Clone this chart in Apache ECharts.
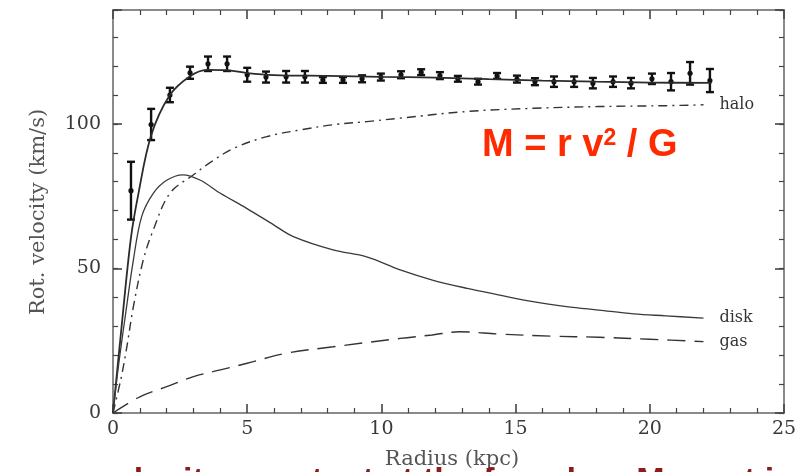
<!DOCTYPE html>
<html>
<head>
<meta charset="utf-8">
<script src="https://cdn.jsdelivr.net/npm/echarts@6/dist/echarts.min.js"></script>
<style>
  html, body { margin: 0; padding: 0; background: #fff; }
  #chart { width: 812px; height: 472px; }
</style>
</head>
<body>
<div id="chart"></div>
<script>
// Observed rotation velocities with 1-sigma errors
const radius = [0.67, 1.42, 2.12, 2.87, 3.54, 4.25, 5.0, 5.70, 6.45, 7.15, 7.82, 8.57, 9.28, 9.98,
  10.73, 11.48, 12.18, 12.85, 13.60, 14.31, 15.05, 15.72, 16.43, 17.18, 17.88, 18.63, 19.30,
  20.08, 20.79, 21.50, 22.24];
const velocity = [76.9, 99.8, 110.0, 117.7, 120.8, 120.8, 117.0, 116.2, 116.3, 116.3, 115.2, 115.2,
  115.6, 116.2, 117.0, 117.9, 116.7, 115.6, 114.6, 116.6, 115.5, 114.6, 114.6, 114.6, 114.1, 114.6,
  114.1, 115.6, 114.6, 117.5, 115.0];
const velocityErr = [10, 5.4, 2.5, 2.1, 2.5, 2.5, 2.4, 1.9, 2.0, 2.0, 1.0, 1.0, 1.2, 1.2, 1.2, 1.0,
  1.2, 1.0, 1.0, 1.0, 1.2, 1.2, 1.8, 1.8, 1.8, 1.8, 1.8, 1.8, 3.0, 3.9, 4.0];

// Model: total fit and its components
const totalR = [0, 0.3, 0.66, 0.93, 1.42, 2.12, 2.87, 3.5, 4.2, 5.0, 6.0, 8.0, 10.0, 12.0, 14.0, 16.0, 18.0, 20.0, 22.3];
const totalV = [0, 28, 60, 75, 96, 110, 116.5, 118.7, 118.6, 117.6, 116.9, 116.6, 116.3, 116.0, 115.5, 115.0, 114.6, 114.3, 114.2];

const haloR = [0, 0.3, 0.5, 0.76, 1.13, 1.5, 2.12, 3.0, 3.6, 4.48, 5.73, 6.97, 8.2, 9.45, 10.7, 13.2, 15.65, 18.1, 20.6, 22.0];
const haloV = [0, 12, 22, 36.8, 53, 63.3, 76, 82.4, 86.5, 91.5, 95.6, 97.9, 99.7, 100.8, 102, 104.3, 105.4, 106, 106.3, 106.6];

const diskR = [0, 0.2, 0.45, 0.76, 1.07, 1.5, 2.0, 2.6, 3.24, 4.0, 4.98, 6.0, 6.72, 8.2, 9.45, 10.7, 11.9, 13.2, 14.4, 15.65, 16.9, 18.1, 19.4, 20.6, 22.0];
const diskV = [0, 16, 33, 53, 68, 76, 80.5, 82.4, 80.6, 76, 70.8, 65, 61, 56.4, 54, 49.5, 46, 43.1, 40.8, 38.5, 36.8, 35.6, 34.3, 33.6, 32.8];

const gasR = [0, 1.0, 2.0, 3.0, 4.0, 5.0, 6.47, 8.2, 10.7, 11.9, 12.9, 14.4, 16.3, 18.1, 20.0, 22.0];
const gasV = [0, 5.6, 9.1, 12.6, 14.9, 17.2, 20.7, 22.9, 25.8, 27.0, 28.1, 27.3, 26.6, 26.2, 25.5, 24.7];

const xTicks = [0, 5, 10, 15, 20, 25];
const yTicks = [0, 50, 100];

const pairs = (xs, ys) => xs.map((x, i) => [x, ys[i]]);
const errData = radius.map((r, i) => [r, velocity[i] - velocityErr[i], velocity[i] + velocityErr[i], velocity[i]]);

const serif = 'DejaVu Serif';
const frameColor = '#8a8a8a';
const tickColor = '#444';

function xAxisDef(position, showLabels) {
  return {
    type: 'value', position, min: 0, max: 25, interval: 5,
    axisLine: { show: true, onZero: false, lineStyle: { color: frameColor, width: 2 } },
    axisTick: { show: true, inside: true, length: 9, lineStyle: { color: tickColor, width: 1.6 } },
    minorTick: { show: true, splitNumber: 5, length: 5, lineStyle: { color: tickColor, width: 1.2 } },
    splitLine: { show: false },
    axisLabel: {
      show: showLabels, margin: 7, fontFamily: serif, fontSize: 19, color: '#3a3a3a',
      formatter: v => (xTicks.indexOf(v) >= 0 ? String(v) : '')
    }
  };
}

function yAxisDef(position, interval, tickLen, showLabels) {
  return {
    type: 'value', position, min: 0, max: 139.4, interval,
    axisLine: { show: true, onZero: false, lineStyle: { color: frameColor, width: 2 } },
    axisTick: { show: true, inside: true, length: tickLen, lineStyle: { color: tickColor, width: tickLen > 6 ? 1.6 : 1.2 } },
    splitLine: { show: false },
    axisLabel: {
      show: showLabels, margin: 12, fontFamily: serif, fontSize: 19, color: '#3a3a3a',
      formatter: v => (yTicks.indexOf(v) >= 0 ? String(v) : '')
    }
  };
}

const chart = echarts.init(document.getElementById('chart'), null, { renderer: 'canvas' });

const curveBase = {
  type: 'line', xAxisIndex: 0, yAxisIndex: 0, showSymbol: false, smooth: 0.35,
  silent: true, animation: false
};
const endLabelStyle = { show: true, distance: 16, fontFamily: serif, fontSize: 16, color: '#333' };

chart.setOption({
  animation: false,
  backgroundColor: '#ffffff',
  grid: { left: 113, right: 28, top: 10, bottom: 59 },
  xAxis: [xAxisDef('bottom', true), xAxisDef('top', false)],
  yAxis: [
    yAxisDef('left', 10, 5, false),
    yAxisDef('left', 50, 9, true),
    yAxisDef('right', 10, 5, false),
    yAxisDef('right', 50, 9, false)
  ],
  series: [
    Object.assign({}, curveBase, {
      name: 'total', data: pairs(totalR, totalV),
      lineStyle: { color: '#2b2b2b', width: 1.8 }
    }),
    Object.assign({}, curveBase, {
      name: 'halo', data: pairs(haloR, haloV),
      lineStyle: { color: '#333', width: 1.4, type: [9, 5, 2, 5] },
      endLabel: Object.assign({ formatter: 'halo' }, endLabelStyle)
    }),
    Object.assign({}, curveBase, {
      name: 'disk', data: pairs(diskR, diskV),
      lineStyle: { color: '#3a3a3a', width: 1.3 },
      endLabel: Object.assign({ formatter: 'disk' }, endLabelStyle)
    }),
    Object.assign({}, curveBase, {
      name: 'gas', data: pairs(gasR, gasV),
      lineStyle: { color: '#333', width: 1.4, type: [18, 9] },
      endLabel: Object.assign({ formatter: 'gas' }, endLabelStyle)
    }),
    {
      type: 'custom', name: 'observed', xAxisIndex: 0, yAxisIndex: 0, silent: true,
      data: errData,
      renderItem: function (params, api) {
        const x = api.value(0);
        const top = api.coord([x, api.value(2)]);
        const bot = api.coord([x, api.value(1)]);
        const mid = api.coord([x, api.value(3)]);
        const cap = 4;
        const style = { stroke: '#111', lineWidth: 2.4 };
        return {
          type: 'group',
          children: [
            { type: 'line', shape: { x1: top[0], y1: top[1], x2: bot[0], y2: bot[1] }, style },
            { type: 'line', shape: { x1: top[0] - cap, y1: top[1], x2: top[0] + cap, y2: top[1] }, style },
            { type: 'line', shape: { x1: bot[0] - cap, y1: bot[1], x2: bot[0] + cap, y2: bot[1] }, style },
            { type: 'circle', shape: { cx: mid[0], cy: mid[1], r: 2.6 }, style: { fill: '#111' } }
          ]
        };
      }
    }
  ],
  graphic: [
    {
      type: 'text', x: 39, y: 212, rotation: Math.PI / 2, silent: true,
      style: {
        text: 'Rot. velocity (km/s)', fontFamily: serif, fontSize: 21, fill: '#555',
        align: 'center', verticalAlign: 'middle'
      }
    },
    {
      type: 'text', x: 452, y: 460, silent: true,
      style: {
        text: 'Radius (kpc)', fontFamily: serif, fontSize: 21, fill: '#555',
        align: 'center', verticalAlign: 'middle'
      }
    },
    {
      type: 'text', x: 482, y: 127, silent: true,
      style: {
        text: 'M = r v{s|2} / G', fontFamily: 'Liberation Sans', fontWeight: 'bold', fontSize: 38, fill: '#ff2a00',
        rich: { s: { fontFamily: 'Liberation Sans', fontWeight: 'bold', fontSize: 23, fill: '#ff2a00', verticalAlign: 'top', padding: [0, 0, 14, 0] } }
      }
    },
    {
      type: 'text', x: 96, y: 465, silent: true,
      style: {
        text: 'velocity constant at the far edge: M must increase with r',
        fontFamily: 'Liberation Sans', fontWeight: 'bold', fontSize: 34, fill: '#8c1c1c'
      }
    }
  ]
});
</script>
</body>
</html>
